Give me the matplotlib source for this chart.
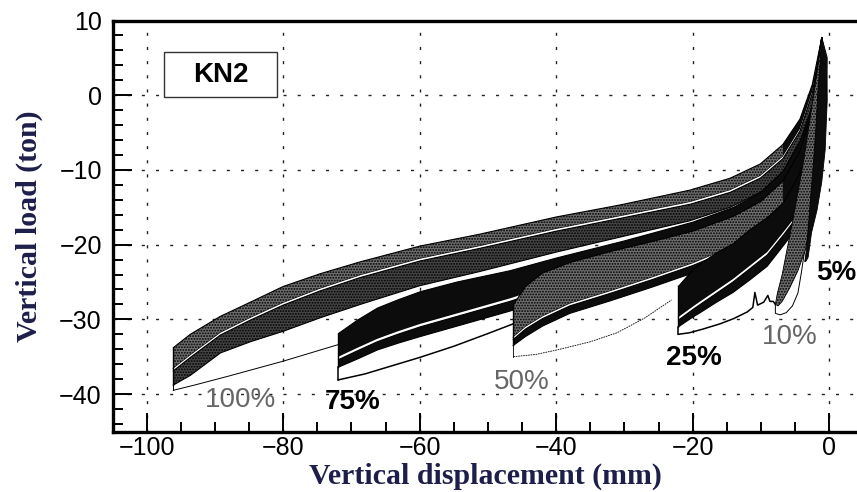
import matplotlib
matplotlib.use("Agg")
import matplotlib.pyplot as plt
from matplotlib.patches import Rectangle
from matplotlib.ticker import MultipleLocator

# Hysteresis loops of specimen KN2, one bundle per amplitude (x: mm, y: ton)
X100 = [-96.1, -93.6, -89.2, -84.8, -80.0, -74.6, -68.7, -60.0, -51.2, -40.0, -30.7, -20.4, -14.5, -10.1, -6.8, -4.3, -2.5, -1.1]
TOP100 = [-33.8, -32.0, -29.6, -27.7, -25.6, -23.9, -22.3, -20.2, -18.6, -16.3, -14.7, -12.7, -11.1, -9.2, -6.6, -3.2, 1.4, 7.7]
GAP100_HI = [-36.6, -34.8, -31.8, -29.8, -27.8, -25.9, -24.1, -21.9, -20.2, -17.9, -16.2, -14.3, -12.7, -10.8, -8.2, -4.5, 0.5, 7.7]
GAP100_LO = [-36.9, -35.1, -32.1, -30.1, -28.1, -26.2, -24.4, -22.2, -20.5, -18.2, -16.5, -14.6, -13.0, -11.1, -8.5, -4.8, 0.2, 7.7]
BOT100 = [-38.8, -37.5, -34.5, -33.0, -31.6, -29.8, -28.0, -25.5, -23.6, -21.0, -19.0, -16.8, -15.0, -13.0, -10.4, -6.5, -1.5, 7.7]
FIRST100_X = [-96.1, -93.0, -88.0, -84.0, -80.0, -76.0, -72.0, -66.0, -60.0, -54.0, -48.0]
FIRST100_Y = [-39.5, -38.8, -37.6, -36.6, -35.6, -34.5, -33.4, -31.9, -30.3, -28.8, -27.3]

X75 = [-71.9, -69.1, -66.2, -63.2, -59.9, -54.5, -46.8, -40.0, -30.0, -20.0, -14.0, -10.0, -6.8, -4.3, -2.5, -1.1]
TOP75 = [-31.9, -30.1, -28.5, -27.4, -26.3, -25.0, -23.5, -21.8, -19.5, -17.0, -15.0, -13.0, -10.2, -6.2, -1.5, 7.7]
GAP75_HI = [-35.0, -33.8, -32.6, -31.6, -30.6, -29.2, -27.2, -25.2, -22.4, -19.5, -17.3, -15.2, -12.2, -7.8, -2.5, 7.7]
GAP75_LO = [-35.4, -34.2, -33.0, -32.0, -31.0, -29.6, -27.6, -25.6, -22.8, -19.9, -17.7, -15.6, -12.6, -8.1, -2.8, 7.7]
BOT75 = [-36.4, -35.3, -34.1, -33.2, -32.3, -30.9, -28.9, -27.0, -24.2, -21.2, -19.0, -16.8, -13.8, -9.2, -3.8, 7.7]
FIRST75_X = [-71.9, -68.0, -64.0, -60.0, -55.0, -50.0, -46.3, -40.0, -31.6, -26.0, -21.0, -14.0, -6.8, -4.0, -2.5, -1.5, -1.1]
FIRST75_Y = [-38.1, -37.3, -36.2, -35.1, -33.6, -31.9, -30.6, -28.6, -26.0, -24.0, -21.9, -19.4, -16.0, -12.0, -6.0, 0.0, 7.7]

X50 = [-46.3, -44.5, -42.0, -38.0, -32.0, -26.0, -20.0, -14.0, -10.0, -6.8, -4.3, -2.5, -1.1]
TOP50 = [-28.1, -25.6, -23.8, -22.4, -20.9, -19.6, -18.2, -16.2, -14.2, -11.5, -7.5, -2.0, 7.7]
GAP50_HI = [-32.4, -31.0, -29.6, -27.9, -26.2, -24.4, -22.5, -20.2, -18.0, -15.0, -10.5, -4.0, 7.7]
GAP50_LO = [-32.7, -31.3, -29.9, -28.2, -26.5, -24.7, -22.8, -20.5, -18.3, -15.3, -10.8, -4.3, 7.7]
BOT50 = [-33.5, -32.3, -30.9, -29.2, -27.5, -25.7, -23.8, -21.5, -19.3, -16.2, -11.8, -5.0, 7.7]
FIRST50_X = [-46.3, -43.0, -39.9, -35.0, -31.1, -27.0, -23.1]
FIRST50_Y = [-35.0, -34.7, -34.1, -33.0, -31.8, -29.8, -27.4]

X25 = [-22.1, -20.0, -18.9, -16.5, -14.1, -11.6, -9.1, -6.7, -4.3, -2.6, -1.6, -1.1]
TOP25 = [-25.6, -23.4, -22.6, -21.1, -19.9, -18.0, -16.4, -14.4, -10.5, -5.0, 0.0, 7.7]
GAP25_HI = [-29.7, -28.3, -27.6, -26.1, -24.6, -22.8, -21.0, -18.3, -15.5, -10.0, -3.0, 7.7]
GAP25_LO = [-30.1, -28.7, -28.0, -26.5, -25.0, -23.2, -21.4, -18.7, -15.8, -10.3, -3.3, 7.7]
BOT25 = [-31.0, -29.7, -29.1, -27.7, -26.4, -24.7, -22.9, -20.1, -17.2, -11.6, -4.2, 7.7]
FIRST25_X = [-22.1, -20.5, -18.5, -16.0, -14.0, -12.0, -11.2, -10.9, -10.5, -9.6, -9.0, -8.7, -8.2, -7.9]
FIRST25_Y = [-32.0, -31.8, -31.3, -30.6, -29.9, -29.0, -28.4, -26.4, -28.1, -27.7, -26.8, -27.6, -27.6, -28.0]

PX10 = [-7.9, -7.6, -6.9, -6.2, -5.5, -4.8, -3.8, -2.8, -1.8, -1.1, -0.6, -1.0, -1.5, -2.0, -2.8, -3.5, -4.6, -5.8, -6.9, -7.5]
PY10 = [-28.0, -26.5, -24.0, -20.7, -17.5, -14.0, -9.0, -3.0, 3.0, 7.7, 3.0, -3.0, -9.0, -14.0, -17.5, -20.7, -23.5, -25.8, -27.6, -28.2]
FIRST10_X = [-7.9, -7.9, -7.2, -6.3, -5.4, -4.6, -4.1, -3.6, -2.5, -1.6, -0.8, -0.4, -0.3, -1.1]
FIRST10_Y = [-28.0, -29.2, -29.4, -29.1, -28.2, -26.5, -23.8, -20.7, -16.3, -12.5, -6.5, -0.6, 5.0, 7.7]

PX5 = [-1.1, -1.3, -1.7, -2.0, -2.4, -2.8, -3.1, -3.4, -3.6, -3.4, -3.1, -2.6, -1.8, -1.1, -0.6, -0.3, -0.4]
PY5 = [7.7, 5.0, 0.0, -5.0, -10.0, -14.5, -18.0, -21.0, -22.3, -22.2, -21.7, -18.4, -15.4, -11.6, -7.3, -0.6, 5.0]

# amplitude labels
AMP_LABELS = ["100%", "75%", "50%", "25%", "10%", "5%"]
AMP_X = [-86.3, -69.8, -45.1, -19.9, -5.8, 1.0]
AMP_Y = [-40.8, -41.1, -38.4, -35.2, -32.4, -23.8]
AMP_BOLD = [False, True, False, True, False, True]

plt.rcParams["hatch.linewidth"] = 0.9
STIPPLE = "#6e6e6e"
STIPPLE_DARK = "#454545"
INK = "#0c0c0c"

fig = plt.figure(figsize=(8.57, 4.92), dpi=100)
ax = fig.add_axes([113 / 857, 60 / 492, 744 / 857, 411.5 / 492])
ax.set_xlim(-104.93, 4.06)
ax.set_ylim(-45.08, 10.0)


def band(x, hi, lo, col, hatch, dark_from):
    # stippled band; solid black from dark_from on, where the loops crowd together
    if dark_from is None:
        dark_from = 1e9
    lite = [xi <= dark_from for xi in x]
    dark = [xi >= dark_from for xi in x]
    if any(lite[1:]):
        ax.fill_between(x, hi, lo, where=lite, facecolor=col, edgecolor="black",
                        hatch=hatch, linewidth=0.0, zorder=2)
    if any(dark[:-1]):
        ax.fill_between(x, hi, lo, where=dark, facecolor=INK, linewidth=0.0, zorder=2)
    ax.plot(x, hi, color="black", lw=0.8, zorder=2)
    ax.plot(x, lo, color="black", lw=0.8, zorder=2)


def bundle(x, top, gap_hi, gap_lo, bot, cols, hatch, dark_top, dark_bot):
    band(x, top, gap_hi, cols[0], hatch, dark_top)
    ax.fill_between(x, gap_hi, gap_lo, facecolor="white", linewidth=0, zorder=2)
    band(x, gap_lo, bot, cols[1], hatch, dark_bot)
    ax.plot([x[0], x[0]], [top[0], bot[0]], color="black", lw=1.0, zorder=2)


# largest amplitude first, smaller loops drawn over it
ax.plot(FIRST100_X, FIRST100_Y, color="black", lw=0.7, zorder=2)
ax.plot([X100[0], X100[0]], [BOT100[0], FIRST100_Y[0]], color="black", lw=0.7, zorder=2)
bundle(X100, TOP100, GAP100_HI, GAP100_LO, BOT100, (STIPPLE, STIPPLE_DARK), "......", -6.8, None)

ax.plot(FIRST75_X, FIRST75_Y, color="black", lw=1.1, zorder=2)
ax.plot([X75[0], X75[0]], [BOT75[0], FIRST75_Y[0]], color="black", lw=1.1, zorder=2)
bundle(X75, TOP75, GAP75_HI, GAP75_LO, BOT75, (INK, INK), None, -71.9, -71.9)

ax.plot(FIRST50_X, FIRST50_Y, color="black", lw=0.6, ls=(0, (2, 1)), zorder=2)
ax.plot([X50[0], X50[0]], [BOT50[0], FIRST50_Y[0]], color="black", lw=0.6, zorder=2)
bundle(X50, TOP50, GAP50_HI, GAP50_LO, BOT50, (STIPPLE, INK), "......", -6.8, -46.3)

ax.plot(FIRST25_X, FIRST25_Y, color="black", lw=1.1, zorder=2)
ax.plot([X25[0], X25[0]], [BOT25[0], FIRST25_Y[0]], color="black", lw=1.1, zorder=2)
bundle(X25, TOP25, GAP25_HI, GAP25_LO, BOT25, (INK, INK), None, -22.1, -22.1)

ax.plot(FIRST10_X, FIRST10_Y, color="black", lw=0.7, zorder=2)
ax.fill(PX10, PY10, facecolor=STIPPLE, edgecolor="black", hatch="......", lw=0.6, zorder=2)
ax.fill(PX5, PY5, facecolor=INK, edgecolor="black", lw=0.6, zorder=2)

for txt, tx, ty, bold in zip(AMP_LABELS, AMP_X, AMP_Y, AMP_BOLD):
    ax.text(tx, ty, txt, ha="center", va="center", fontsize=20,
            family="Liberation Sans", fontweight="bold" if bold else "normal",
            color="black" if bold else "#666666", zorder=3)

# specimen tag
ax.add_patch(Rectangle((-97.4, -0.2), 16.5, 6.0, facecolor="white",
                       edgecolor="#333333", lw=1.0, zorder=3))
ax.text(-89.2, 2.7, "KN2", ha="center", va="center", fontsize=20,
        fontweight="bold", family="Liberation Sans", zorder=4)

ax.xaxis.set_major_locator(MultipleLocator(20))
ax.xaxis.set_minor_locator(MultipleLocator(5))
ax.yaxis.set_major_locator(MultipleLocator(10))
ax.yaxis.set_minor_locator(MultipleLocator(2))
ax.tick_params(which="both", direction="in", top=False, right=False, width=1.4,
               labelsize=18, labelfontfamily="Liberation Sans")
ax.tick_params(which="major", length=14)
ax.tick_params(which="minor", length=7)
ax.tick_params(axis="x", pad=3)
ax.tick_params(axis="y", pad=8)

ax.grid(True, which="major", color="#222222", lw=1.0, ls=(0, (2.2, 8)), zorder=1)
for side in ["left", "bottom", "top"]:
    ax.spines[side].set_linewidth(2.4)
ax.spines["right"].set_visible(False)

ax.set_xlabel("Vertical displacement (mm)", fontsize=21.5, fontweight="bold",
              family="Liberation Serif", color="#1e1e4a", labelpad=2)
ax.set_ylabel("Vertical load (ton)", fontsize=21.5, fontweight="bold",
              family="Liberation Serif", color="#1e1e4a", labelpad=12)

fig.savefig("out.png", dpi=100)
